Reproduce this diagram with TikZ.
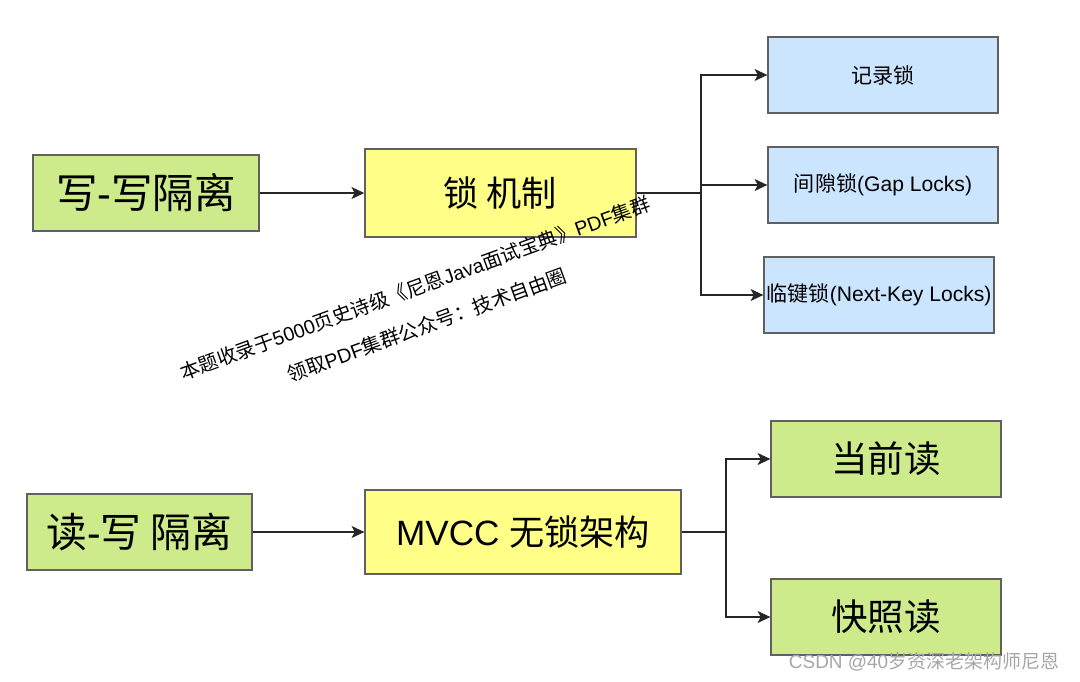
\documentclass[tikz,border=0pt]{standalone}
\usepackage{fontspec}
\setmainfont{Liberation Sans}
\newfontfamily\cjk{Noto Sans CJK SC}
\usetikzlibrary{arrows.meta}
\definecolor{boxgreen}{HTML}{CDEB8B}
\definecolor{boxyellow}{HTML}{FFFF88}
\definecolor{boxblue}{HTML}{CCE5FF}
\definecolor{boxline}{HTML}{606060}

\begin{document}
\begin{tikzpicture}[greenbox/.style={rectangle, draw=boxline, fill=boxgreen, line width=0.9pt, minimum width=5.65cm, minimum height=1.9cm, inner sep=0pt},
yellowbox/.style={rectangle, draw=boxline, fill=boxyellow, line width=0.9pt, minimum height=2.2cm, inner sep=0pt, font=\fontsize{25}{28}\selectfont},
bluebox/.style={rectangle, draw=boxline, fill=boxblue, line width=0.9pt, minimum width=5.75cm, minimum height=1.9cm, inner sep=0pt, font=\fontsize{15}{18}\selectfont},
arrow/.style={-{Stealth[length=3.2mm,width=3mm,inset=0.8mm]}, line width=0.9pt, draw=black!85},
plainline/.style={line width=0.9pt, draw=black!85}]

\useasboundingbox (0,0) rectangle (27,-17.025);

% write-write branch
\node[greenbox, font=\fontsize{29.5}{32}\selectfont](wwiso) at (3.65, -4.825){{\cjk 写}-{\cjk 写隔离}};
\node[yellowbox, minimum width=6.775cm](lockmech) at (12.51, -4.825){\cjk 锁 机制};

\node[bluebox](recordlock) at (22.075, -1.875){\cjk 记录锁};
\node[bluebox](gaplock) at (22.075, -4.625){{\cjk 间隙锁}(Gap Locks)};
\node[bluebox](nextkeylock) at (21.975, -7.375){{\cjk 临键锁}(Next-Key Locks)};

\draw[arrow](wwiso.east) -- (lockmech.west);
\coordinate (lockfork) at (17.525, -4.825);
\draw[plainline](lockmech.east) -- (lockfork);
\draw[arrow](lockfork) |- (recordlock.west);
\draw[arrow](lockfork) |- (gaplock.west);
\draw[arrow](lockfork) |- (nextkeylock.west);

% read-write branch
\node[greenbox, minimum width=5.625cm, font=\fontsize{29}{32}\selectfont](rwiso) at (3.4875, -13.3){{\cjk 读}-{\cjk 写 隔离}};
\node[yellowbox, minimum width=7.9cm, minimum height=2.1cm](mvcc) at (13.075, -13.3){MVCC {\cjk 无锁架构}};

\node[greenbox, minimum width=5.75cm, font=\fontsize{26}{28}\selectfont](curread) at (22.15, -11.475){\cjk 当前读};
\node[greenbox, minimum width=5.75cm, font=\fontsize{26}{28}\selectfont](snapread) at (22.15, -15.425){\cjk 快照读};

\draw[arrow](rwiso.east) -- (mvcc.west);
\coordinate (mvccfork) at (18.15, -13.3);
\draw[plainline](mvcc.east) -- (mvccfork);
\draw[arrow](mvccfork) |- (curread.west);
\draw[arrow](mvccfork) |- (snapread.west);

% watermarks
\node[rotate=20, font=\fontsize{14}{16}\selectfont](markone) at (10.375, -7.2){{\cjk 本题收录于}5000{\cjk 页史诗级《尼恩}Java{\cjk 面试宝典》}PDF{\cjk 集群}};
\node[rotate=20, font=\fontsize{14}{16}\selectfont](marktwo) at (10.675, -8.125){{\cjk 领取}PDF{\cjk 集群公众号：技术自由圈}};
\node[text=black!35, font=\fontsize{13.5}{15}\selectfont](csdnmark) at (23.1, -16.55){CSDN @40{\cjk 岁资深老架构师尼恩}};

\end{tikzpicture}
\end{document}
